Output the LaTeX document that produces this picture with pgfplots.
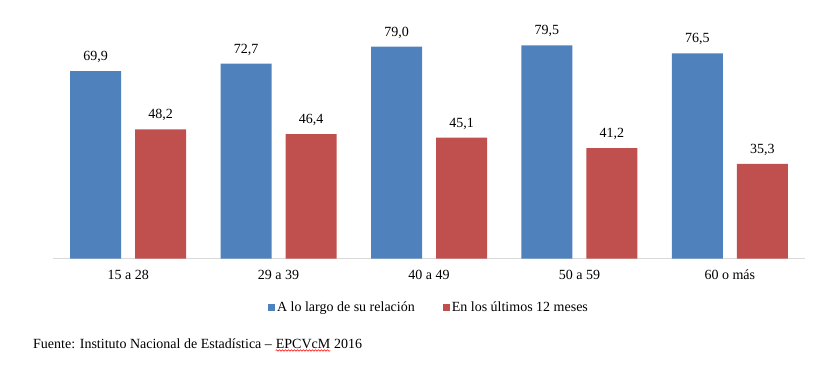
\documentclass[border=0pt]{standalone}
\usepackage{pgfplots}
\pgfplotsset{compat=1.18}
\usepackage{fontspec}
\setmainfont{Liberation Serif}
\usetikzlibrary{decorations.pathmorphing}
\definecolor{cblue}{HTML}{4F81BD}
\definecolor{cred}{HTML}{C0504D}
\definecolor{axgray}{HTML}{D9D9D9}
\newcommand{\ff}{\fontsize{14bp}{16bp}\selectfont}
\begin{document}
\begin{tikzpicture}[x=1bp,y=1bp]
\useasboundingbox (0,0) rectangle (824,369);
\begin{axis}[
  at={(53bp,110.3bp)}, anchor=south west,
  width=752bp, height=241.6bp, scale only axis,
  xmin=-0.5, xmax=4.5, ymin=0, ymax=90,
  axis x line=bottom, axis y line=none,
  x axis line style={-, axgray, line width=0.8pt},
  xtick={0,1,2,3,4},
  xticklabels={15 a 28, 29 a 39, 40 a 49, 50 a 59, 60 o más},
  major tick length=0pt,
  xticklabel style={anchor=base, yshift=-21bp, font=\ff},
  ybar, bar width=51bp,
  clip=false,
  /pgf/number format/assume math mode=true,
  nodes near coords={\pgfmathprintnumber[fixed, fixed zerofill, precision=1, use comma]{\pgfplotspointmeta}},
  node near coord style={anchor=base, yshift=10.5bp, font=\ff, inner sep=0pt},
  legend columns=2,
  legend style={at={(0.5,-0.203)}, anchor=center, draw=none, fill=none,
    font=\ff,
    /tikz/every even column/.append style={column sep=26bp}},
  legend image code/.code={\fill[#1] (0bp,-3.5bp) rectangle (7bp,3.5bp);},
]
\addplot[fill=cblue, draw=none, bar shift=-32.5bp] coordinates {(0,69.9) (1,72.7) (2,79.0) (3,79.5) (4,76.5)};
\addlegendentry{A lo largo de su relación}
\addplot[fill=cred, draw=none, bar shift=32.5bp] coordinates {(0,48.2) (1,46.4) (2,45.1) (3,41.2) (4,35.3)};
\addlegendentry{En los últimos 12 meses}
\end{axis}
\node[anchor=base west, inner sep=0pt, font=\ff] (f1) at (33,21) {Fuente: Instituto Nacional de Estadística –};
\node[anchor=base west, inner sep=0pt, font=\ff] (f2) at ([xshift=3.5bp]f1.base east) {EPCVcM};
\node[anchor=base west, inner sep=0pt, font=\ff] (f3) at ([xshift=3.5bp]f2.base east) {2016};
\draw[red, line width=0.5bp, decorate, decoration={snake, amplitude=0.8bp, segment length=3bp}] ([yshift=-2.5bp]f2.base west) -- ([yshift=-2.5bp]f2.base east);
\end{tikzpicture}
\end{document}
